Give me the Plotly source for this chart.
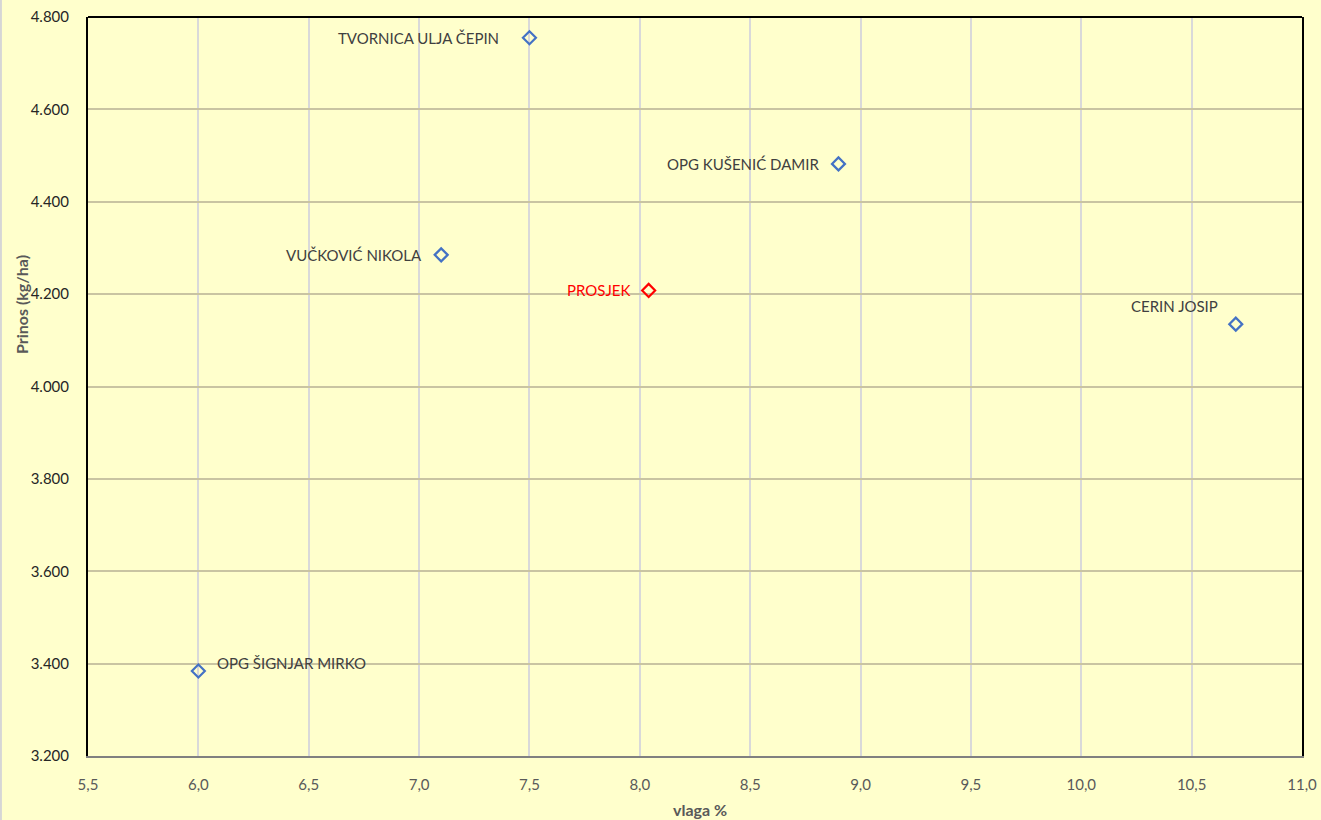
import plotly.graph_objects as go

# Data
names = ["TVORNICA ULJA ČEPIN", "OPG KUŠENIĆ DAMIR", "VUČKOVIĆ NIKOLA",
         "CERIN JOSIP", "OPG ŠIGNJAR MIRKO"]
vlaga = [7.5, 8.9, 7.1, 10.7, 6.0]
prinos = [4755, 4482, 4285, 4135, 3384]

avg_name = "PROSJEK"
avg_vlaga = [8.04]
avg_prinos = [4208]

x_ticks = [5.5, 6.0, 6.5, 7.0, 7.5, 8.0, 8.5, 9.0, 9.5, 10.0, 10.5, 11.0]
y_ticks = [3200, 3400, 3600, 3800, 4000, 4200, 4400, 4600, 4800]

x_title = "vlaga %"
y_title = "Prinos (kg/ha)"

# Label placement styles (per point)
label_style = {
    "TVORNICA ULJA ČEPIN": dict(xanchor="right", xshift=-28, yshift=0),
    "OPG KUŠENIĆ DAMIR": dict(xanchor="right", xshift=-17, yshift=0),
    "VUČKOVIĆ NIKOLA": dict(xanchor="right", xshift=-17, yshift=0),
    "CERIN JOSIP": dict(xanchor="right", xshift=-16, yshift=18),
    "OPG ŠIGNJAR MIRKO": dict(xanchor="left", xshift=17, yshift=8),
}

BLUE = "#4472C4"
RED = "#FF0000"
BG = "#FFFFCC"
FONT = "Lato"

fig = go.Figure()
fig.add_trace(go.Scatter(
    x=vlaga, y=prinos, mode="markers",
    marker=dict(symbol="diamond-open", size=10, color=BLUE, line=dict(width=2.2, color=BLUE)),
    showlegend=False, hoverinfo="x+y"))
fig.add_trace(go.Scatter(
    x=avg_vlaga, y=avg_prinos, mode="markers",
    marker=dict(symbol="diamond-open", size=10, color=RED, line=dict(width=2.2, color=RED)),
    showlegend=False, hoverinfo="x+y"))

for n, xv, yv in zip(names, vlaga, prinos):
    st = label_style[n]
    fig.add_annotation(x=xv, y=yv, text=n, showarrow=False, yanchor="middle",
                       font=dict(family=FONT, size=15, color="#404040"), **st)
fig.add_annotation(x=avg_vlaga[0], y=avg_prinos[0], text=avg_name, showarrow=False,
                   xanchor="right", yanchor="middle", xshift=-17,
                   font=dict(family=FONT, size=15, color=RED))

# axis titles
fig.add_annotation(xref="paper", yref="paper", x=0.504, y=-0.073, text="<b>" + x_title + "</b>",
                   showarrow=False, xanchor="center", yanchor="middle",
                   font=dict(family=FONT, size=16, color="#595959"))
fig.add_annotation(xref="paper", yref="paper", x=-0.0552, y=0.6116, text="<b>" + y_title + "</b>",
                   showarrow=False, xanchor="center", yanchor="middle", textangle=-90,
                   font=dict(family=FONT, size=16, color="#595959"))

# top border of plot area
fig.add_shape(type="line", xref="paper", yref="paper", x0=0, x1=1, y0=1, y1=1,
              line=dict(color="#000000", width=2))
# thin gray chart-frame strip on the left edge of the page
fig.add_shape(type="rect", xref="paper", yref="paper", x0=-0.0725, x1=-0.0709,
              y0=-0.09, y1=1.03, line=dict(width=0), fillcolor="#D6D6D6", layer="below")

fig.update_layout(
    width=1321, height=820,
    margin=dict(l=88, r=19, t=17, b=64, autoexpand=False),
    paper_bgcolor=BG, plot_bgcolor=BG,
    separators=",.",
    font=dict(family=FONT, size=14, color="#595959"),
    xaxis=dict(range=[5.5, 11.0], tickvals=x_ticks, tickformat=".1f",
               showgrid=True, gridcolor="#D9D9D9", gridwidth=2,
               showline=True, linecolor="#808080", linewidth=2,
               zeroline=False, ticks="", ticklabelstandoff=14, automargin=False,
               tickfont=dict(family=FONT, size=15, color="#595959")),
    yaxis=dict(range=[3200, 4800], tickvals=y_ticks, tickformat=",.0f",
               showgrid=True, gridcolor="#C9C4A2", gridwidth=1.5,
               showline=True, linecolor="#000000", linewidth=2, mirror=True,
               zeroline=False, ticks="", ticklabelstandoff=14, automargin=False,
               tickfont=dict(family=FONT, size=15, color="#262626")),
)

fig.write_html("out.html", config={"displayModeBar": False},
               post_script="document.body.style.margin='0';document.body.style.overflow='hidden';")
